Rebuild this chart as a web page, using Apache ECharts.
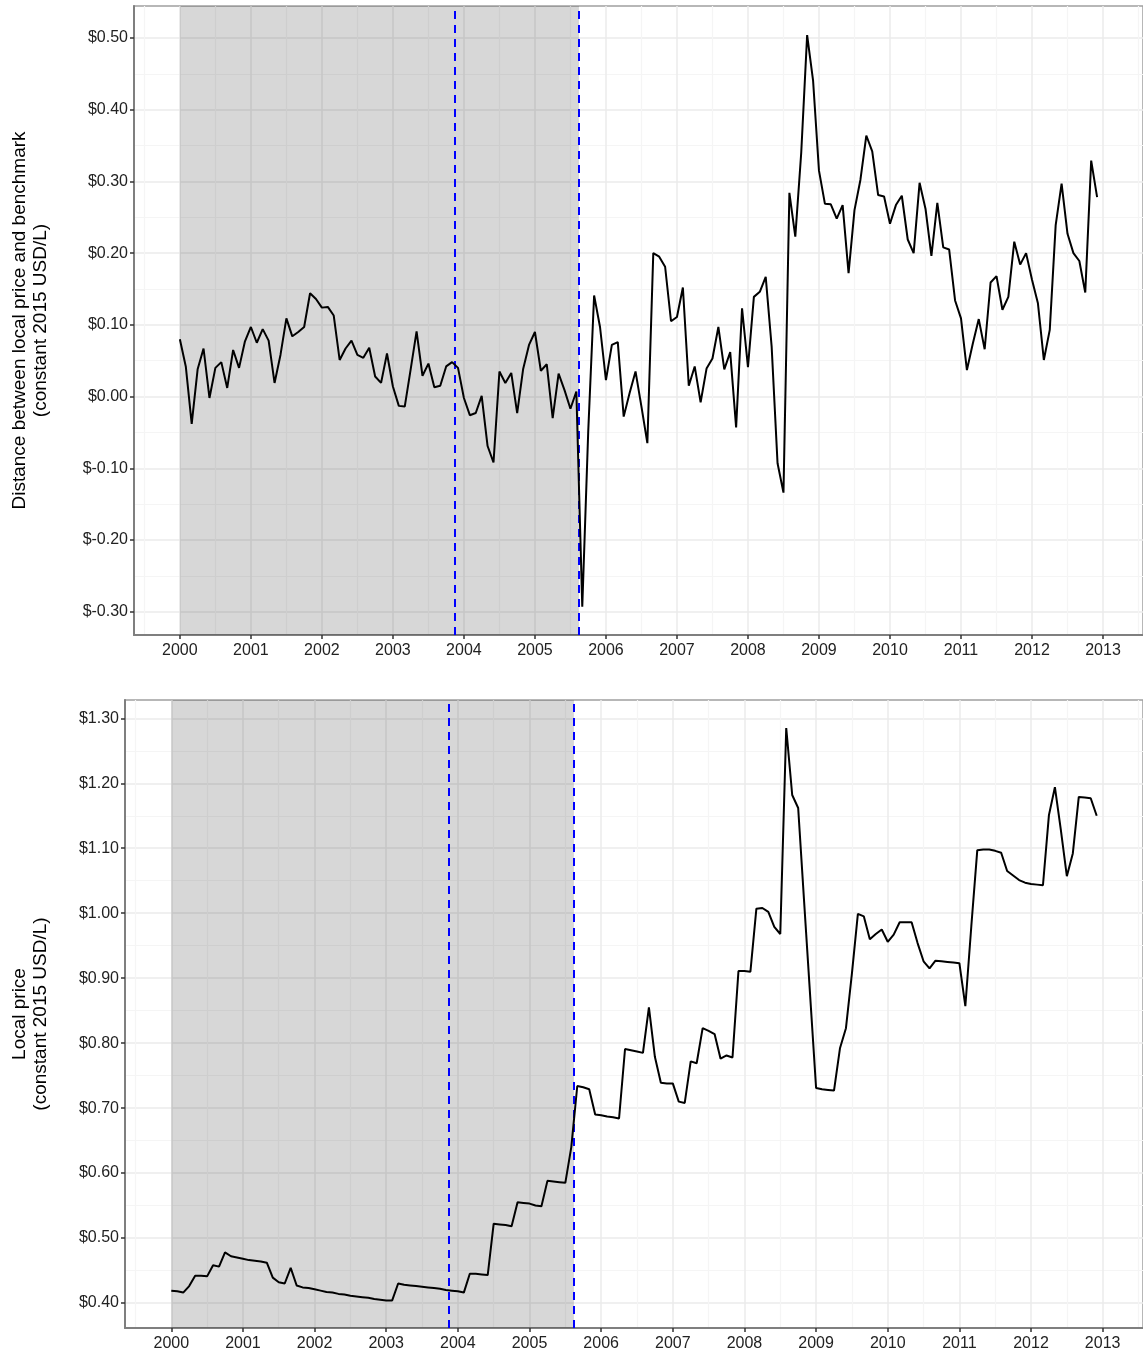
<!DOCTYPE html>
<html>
<head>
<meta charset="utf-8">
<script src="https://cdn.jsdelivr.net/npm/echarts@6/dist/echarts.min.js"></script>
<style>
    html, body { margin: 0; padding: 0; background: #fff; }
    #main { width: 1143px; height: 1357px; }
</style>
</head>
<body>
<div id="main"></div>
<script>
// monthly series, Jan 2000 .. Dec 2012
var startYear = 2000;

// distance between local price and benchmark (USD/L)
var gap = [
    0.080, 0.042, -0.038, 0.038, 0.067, -0.002, 0.040, 0.048, 0.012, 0.065, 0.040, 0.077,
    0.097, 0.075, 0.094, 0.078, 0.019, 0.058, 0.109, 0.084, 0.090, 0.097, 0.144, 0.136,
    0.124, 0.125, 0.113, 0.051, 0.067, 0.078, 0.058, 0.054, 0.068, 0.028, 0.019, 0.060,
    0.014, -0.013, -0.014, 0.038, 0.091, 0.029, 0.046, 0.013, 0.015, 0.042, 0.048, 0.040,
    -0.002, -0.026, -0.023, 0.001, -0.069, -0.092, 0.035, 0.019, 0.033, -0.023, 0.038, 0.072,
    0.090, 0.036, 0.045, -0.030, 0.032, 0.009, -0.017, 0.007, -0.293, -0.050, 0.141, 0.097,
    0.023, 0.072, 0.076, -0.028, 0.005, 0.035, -0.014, -0.065, 0.200, 0.195, 0.181, 0.105,
    0.111, 0.152, 0.015, 0.042, -0.008, 0.039, 0.053, 0.097, 0.038, 0.062, -0.043, 0.123,
    0.041, 0.139, 0.146, 0.167, 0.070, -0.093, -0.134, 0.284, 0.223, 0.340, 0.504, 0.441,
    0.315, 0.269, 0.268, 0.248, 0.267, 0.172, 0.260, 0.302, 0.364, 0.342, 0.281, 0.279,
    0.241, 0.267, 0.280, 0.219, 0.200, 0.298, 0.262, 0.196, 0.270, 0.208, 0.205, 0.134,
    0.109, 0.037, 0.074, 0.108, 0.066, 0.159, 0.168, 0.121, 0.139, 0.216, 0.184, 0.200,
    0.163, 0.130, 0.051, 0.093, 0.239, 0.297, 0.227, 0.200, 0.189, 0.145, 0.329, 0.278
];

// local price (USD/L)
var price = [
    0.419, 0.418, 0.416, 0.426, 0.442, 0.442, 0.441, 0.458, 0.456, 0.478, 0.472, 0.470,
    0.468, 0.466, 0.465, 0.464, 0.462, 0.439, 0.432, 0.430, 0.454, 0.427, 0.424, 0.423,
    0.421, 0.419, 0.417, 0.416, 0.414, 0.413, 0.411, 0.410, 0.409, 0.408, 0.406, 0.405,
    0.404, 0.404, 0.430, 0.428, 0.427, 0.426, 0.425, 0.424, 0.423, 0.422, 0.420, 0.419,
    0.418, 0.416, 0.445, 0.445, 0.444, 0.443, 0.522, 0.521, 0.520, 0.518, 0.555, 0.554,
    0.553, 0.550, 0.549, 0.588, 0.587, 0.586, 0.585, 0.640, 0.734, 0.732, 0.729, 0.690,
    0.689, 0.687, 0.686, 0.684, 0.791, 0.789, 0.787, 0.785, 0.855, 0.779, 0.739, 0.738,
    0.738, 0.710, 0.708, 0.772, 0.769, 0.823, 0.819, 0.814, 0.776, 0.781, 0.778, 0.911,
    0.911, 0.910, 1.007, 1.008, 1.002, 0.979, 0.968, 1.285, 1.182, 1.162, 1.017, 0.874,
    0.731, 0.729, 0.728, 0.727, 0.792, 0.823, 0.907, 0.999, 0.995, 0.960, 0.968, 0.975,
    0.956, 0.967, 0.986, 0.986, 0.986, 0.954, 0.926, 0.915, 0.927, 0.926, 0.925, 0.924,
    0.923, 0.857, 0.980, 1.097, 1.098, 1.098, 1.096, 1.093, 1.065, 1.058, 1.051, 1.047,
    1.045, 1.044, 1.043, 1.151, 1.194, 1.128, 1.057, 1.092, 1.179, 1.178, 1.177, 1.150
];

var shadeStart = 2000;
var eventDates = [2003.87, 2005.62];

var yearTicks = [2000, 2001, 2002, 2003, 2004, 2005, 2006, 2007, 2008, 2009, 2010, 2011, 2012, 2013];
var yearMinor = [1999.5, 2000.5, 2001.5, 2002.5, 2003.5, 2004.5, 2005.5, 2006.5, 2007.5, 2008.5, 2009.5, 2010.5, 2011.5, 2012.5, 2013.5];
var gapTicks = [-0.3, -0.2, -0.1, 0, 0.1, 0.2, 0.3, 0.4, 0.5];
var gapMinor = [-0.25, -0.15, -0.05, 0.05, 0.15, 0.25, 0.35, 0.45];
var priceTicks = [0.4, 0.5, 0.6, 0.7, 0.8, 0.9, 1.0, 1.1, 1.2, 1.3];
var priceMinor = [0.45, 0.55, 0.65, 0.75, 0.85, 0.95, 1.05, 1.15, 1.25];

function toPairs(values) {
    var out = [];
    for (var i = 0; i < values.length; i++) {
        out.push([startYear + i / 12, values[i]]);
    }
    return out;
}

var font = "'Liberation Sans', Arial, sans-serif";
var xMin = 1999.354, xMax = 2013.563;

function majorX(grid) {
    return {
        type: 'value', gridIndex: grid, min: xMin, max: xMax, position: 'bottom',
        axisLine: {show: true, onZero: false, lineStyle: {color: '#7f7f7f', width: 2}},
        axisTick: {show: true, customValues: yearTicks, length: 4, lineStyle: {color: '#333', width: 1.5}},
        axisLabel: {
            customValues: yearTicks, fontSize: 16, color: '#222', fontFamily: font, margin: 8,
            formatter: function (v) { return String(Math.round(v)); }
        },
        splitLine: {show: true, lineStyle: {color: '#ebebeb', width: 1.5}}
    };
}
function minorX(grid) {
    return {
        type: 'value', gridIndex: grid, min: xMin, max: xMax, position: 'top',
        axisLine: {show: false},
        axisTick: {show: false, customValues: yearMinor},
        axisLabel: {show: false, customValues: yearMinor},
        splitLine: {show: true, lineStyle: {color: '#f5f5f5', width: 1.2}}
    };
}
function majorY(grid, min, max, ticks, name, gap) {
    return {
        type: 'value', gridIndex: grid, min: min, max: max,
        name: name, nameLocation: 'middle', nameGap: gap, nameRotate: 90,
        nameTextStyle: {fontSize: 19, color: '#000', fontFamily: font, lineHeight: 21},
        axisLine: {show: true, onZero: false, lineStyle: {color: '#7f7f7f', width: 2}},
        axisTick: {show: true, customValues: ticks, length: 4, lineStyle: {color: '#333', width: 1.5}},
        axisLabel: {
            customValues: ticks, fontSize: 16, color: '#222', fontFamily: font, margin: 6,
            formatter: function (v) { return '$' + v.toFixed(2); }
        },
        splitLine: {show: true, lineStyle: {color: '#ebebeb', width: 1.5}}
    };
}
function minorY(grid, min, max, ticks) {
    return {
        type: 'value', gridIndex: grid, min: min, max: max, position: 'right',
        axisLine: {show: false},
        axisTick: {show: false, customValues: ticks},
        axisLabel: {show: false, customValues: ticks},
        splitLine: {show: true, lineStyle: {color: '#f5f5f5', width: 1.2}}
    };
}

function lineSeries(xi, yi, values) {
    return {
        type: 'line', xAxisIndex: xi, yAxisIndex: yi,
        data: toPairs(values),
        showSymbol: false, symbol: 'none', silent: true, z: 5,
        lineStyle: {color: '#000', width: 2},
        markArea: {
            silent: true,
            itemStyle: {color: 'rgba(0,0,0,0.155)'},
            data: [[{xAxis: shadeStart}, {xAxis: eventDates[1]}]]
        },
        markLine: {
            silent: true, symbol: 'none', label: {show: false},
            lineStyle: {color: '#0000ff', type: [8, 6], width: 2},
            data: [{xAxis: eventDates[0]}, {xAxis: eventDates[1]}]
        }
    };
}

var dom = document.getElementById('main');
var myChart = echarts.init(dom, null, {renderer: 'canvas'});
var option = {
    animation: false,
    backgroundColor: '#fff',
    grid: [
        {left: 134, top: 6, width: 1011, height: 629, show: true, borderColor: '#a0a0a0', borderWidth: 1.5, backgroundColor: 'transparent'},
        {left: 125, top: 700, width: 1021, height: 628, show: true, borderColor: '#a0a0a0', borderWidth: 1.5, backgroundColor: 'transparent'}
    ],
    xAxis: [majorX(0), minorX(0), majorX(1), minorX(1)],
    yAxis: [
        majorY(0, -0.3325, 0.5446, gapTicks, 'Distance between local price and benchmark\n(constant 2015 USD/L)', 83),
        minorY(0, -0.3325, 0.5446, gapMinor),
        majorY(1, 0.3615, 1.3282, priceTicks, 'Local price\n(constant 2015 USD/L)', 74),
        minorY(1, 0.3615, 1.3282, priceMinor)
    ],
    series: [
        lineSeries(0, 0, gap),
        lineSeries(2, 2, price)
    ]
};
if (option && typeof option === "object") {
    myChart.setOption(option, true);
}
</script>
</body>
</html>
